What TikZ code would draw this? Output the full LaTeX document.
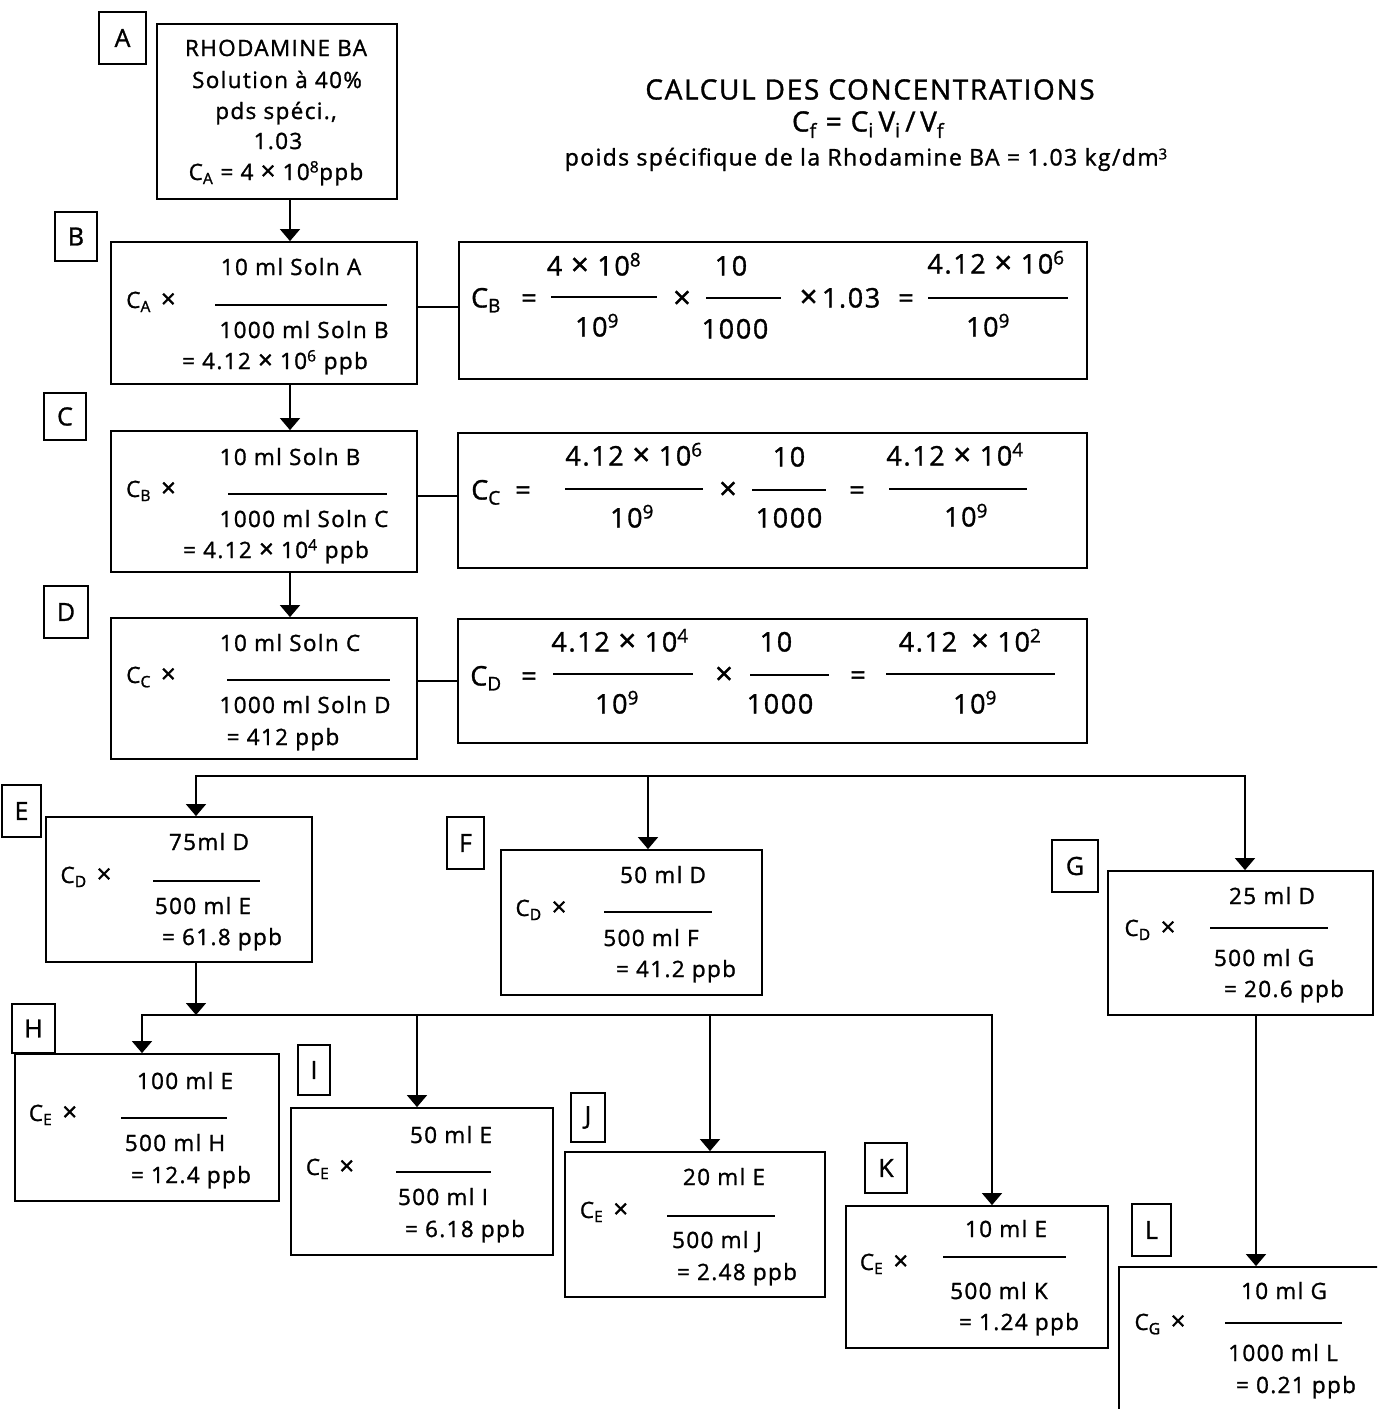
\documentclass[tikz,border=0pt]{standalone}
\usepackage{fontspec}
\setmainfont{Open Sans}[LetterSpace=6, FakeBold=1.2]
\usetikzlibrary{arrows.meta}
\newcommand\Cs[1]{C\textsubscript{#1}}
\newcommand\X{\scalebox{1.15}{×}}
\newcommand\bx[5]{\node[box, minimum width={#4-#2}, minimum height={#5-#3}] (#1) at ({(#2+#4)/2},{(#3+#5)/2}) {};}
\newcommand\lb[6]{\node[lbl, minimum width={#4-#2}, minimum height={#5-#3}] (#1) at ({(#2+#4)/2},{(#3+#5)/2}) {#6};}
\newcommand\rl[3]{\draw[fracrule] (#1,#3) -- (#2,#3);}
\begin{document}
\begin{tikzpicture}[x=1pt,y=-1pt,
  box/.style={draw, line width=1.8pt, inner sep=0pt, rectangle},
  lbl/.style={draw, line width=1.6pt, inner sep=0pt, rectangle, font=\fontsize{25}{28}\selectfont},
  txt/.style={inner sep=0pt, anchor=base, yshift=-8pt, font=\fontsize{22.5}{26}\selectfont},
  eqt/.style={inner sep=0pt, anchor=base, yshift=-9.5pt, font=\fontsize{27}{31}\selectfont},
  ttl/.style={inner sep=0pt, anchor=base, yshift=-9.5pt, font=\fontsize{28}{32}\selectfont},
  sml/.style={inner sep=0pt, anchor=base, yshift=-7.5pt, font=\fontsize{23}{27}\selectfont},
  fracrule/.style={line width=1.6pt},
  link/.style={line width=1.6pt, line cap=rect},
  arr/.style={line width=1.6pt, -{Triangle[width=20pt,length=12pt]}}]
\useasboundingbox (0,0) rectangle (1377,1409);

% ---- title
\node[ttl] (t1) at (870,90) {CALCUL DES CONCENTRATIONS};
\node[ttl] (t2) at (868,122) {\Cs{f} = \Cs{i}\,V\textsubscript{i}\,/\,V\textsubscript{f}};
\node[sml] (t3) at (866,158) {poids spécifique de la Rhodamine BA = 1.03 kg/dm\raisebox{0.5ex}{\fontsize{15}{16}\selectfont 3}};

% ---- letter labels
\lb{lA}{99}{12}{146}{64}{A}
\lb{lB}{55}{212}{97}{261}{B}
\lb{lC}{44}{393}{86}{440}{C}
\lb{lD}{44}{586}{88}{638}{D}
\lb{lE}{2}{785}{41}{837}{E}
\lb{lF}{447}{817}{484}{869}{F}
\lb{lG}{1052}{840}{1098}{892}{G}
\lb{lH}{12}{1004}{55}{1053}{H}
\lb{lI}{298}{1045}{330}{1095}{I}
\lb{lJ}{571}{1093}{605}{1142}{J}
\lb{lK}{865}{1143}{907}{1193}{K}
\lb{lL}{1132}{1204}{1171}{1256}{L}

% ---- boxes
\bx{bA}{157}{24}{397}{199}
\bx{bB}{111}{242}{417}{384}
\bx{qB}{459}{242}{1087}{379}
\bx{bC}{111}{431}{417}{572}
\bx{qC}{458}{433}{1087}{568}
\bx{bD}{111}{618}{417}{759}
\bx{qD}{458}{619}{1087}{743}
\bx{bE}{46}{817}{312}{962}
\bx{bF}{501}{850}{762}{995}
\bx{bG}{1108}{871}{1373}{1015}
\bx{bH}{15}{1054}{279}{1201}
\bx{bI}{291}{1108}{553}{1255}
\bx{bJ}{565}{1152}{825}{1297}
\bx{bK}{846}{1206}{1108}{1348}
\begin{scope}
\clip (0,0) rectangle (1377,1409);
\bx{bL}{1119}{1267}{1420}{1450}
\end{scope}

% ---- box A text
\node[txt] (a1) at (276,48) {RHODAMINE BA};
\node[txt] (a2) at (277,80) {Solution à 40\%};
\node[txt] (a3) at (276,111) {pds spéci.,};
\node[txt] (a4) at (278,141) {1.03};
\node[txt] (a5) at (276,172) {\Cs{A} = 4 \X{} 10\textsuperscript{8}ppb};

% ---- box B
\node[txt] (b1) at (151,300) {\Cs{A}\hspace{10pt}\X};
\node[txt] (b2) at (291,267) {10 ml Soln A};
\rl{215}{387}{305}
\node[txt] (b3) at (304,330) {1000 ml Soln B};
\node[txt] (b4) at (275,361) {= 4.12 \X{} 10\textsuperscript{6} ppb};

% ---- box C
\node[txt] (c1) at (151,489) {\Cs{B}\hspace{10pt}\X};
\node[txt] (c2) at (290,457) {10 ml Soln B};
\rl{228}{387}{494}
\node[txt] (c3) at (304,519) {1000 ml Soln C};
\node[txt] (c4) at (276,550) {= 4.12 \X{} 10\textsuperscript{4} ppb};

% ---- box D
\node[txt] (d1) at (151,675) {\Cs{C}\hspace{10pt}\X};
\node[txt] (d2) at (290,643) {10 ml Soln C};
\rl{227}{390}{680}
\node[txt] (d3) at (305,705) {1000 ml Soln D};
\node[txt] (d4) at (283,737) {= 412 ppb};

% ---- equation B
\node[eqt] (qb1) at (486,298) {\Cs{B}};
\node[eqt] (qb2) at (529,298) {=};
\node[eqt] (qb3) at (594,266) {4 \X{} 10\textsuperscript{8}};
\rl{551}{657}{297}
\node[eqt] (qb4) at (597,327) {10\textsuperscript{9}};
\node[eqt] (qb5) at (682,299) {\X};
\node[eqt] (qb6) at (731,266) {10};
\rl{706}{781}{298}
\node[eqt] (qb7) at (735,329) {1000};
\node[eqt] (qb8) at (840,298) {\X\,1.03};
\node[eqt] (qb9) at (906,298) {=};
\node[eqt] (qb10) at (996,264) {4.12 \X{} 10\textsuperscript{6}};
\rl{928}{1068}{298}
\node[eqt] (qb11) at (988,327) {10\textsuperscript{9}};

% ---- equation C
\node[eqt] (qc1) at (486,490) {\Cs{C}};
\node[eqt] (qc2) at (523,490) {=};
\node[eqt] (qc3) at (634,456) {4.12 \X{} 10\textsuperscript{6}};
\rl{565}{703}{489}
\node[eqt] (qc4) at (632,518) {10\textsuperscript{9}};
\node[eqt] (qc5) at (728,490) {\X};
\node[eqt] (qc6) at (789,457) {10};
\rl{752}{826}{490}
\node[eqt] (qc7) at (789,518) {1000};
\node[eqt] (qc8) at (857,490) {=};
\node[eqt] (qc9) at (955,456) {4.12 \X{} 10\textsuperscript{4}};
\rl{889}{1027}{489}
\node[eqt] (qc10) at (966,517) {10\textsuperscript{9}};

% ---- equation D
\node[eqt] (qd1) at (486,676) {\Cs{D}};
\node[eqt] (qd2) at (529,676) {=};
\node[eqt] (qd3) at (620,642) {4.12 \X{} 10\textsuperscript{4}};
\rl{553}{693}{674}
\node[eqt] (qd4) at (617,704) {10\textsuperscript{9}};
\node[eqt] (qd5) at (724,675) {\X};
\node[eqt] (qd6) at (776,642) {10};
\rl{750}{829}{675}
\node[eqt] (qd7) at (780,704) {1000};
\node[eqt] (qd8) at (858,675) {=};
\node[eqt] (qd9) at (970,642) {4.12\hspace{14pt}\X{} 10\textsuperscript{2}};
\rl{886}{1055}{674}
\node[eqt] (qd10) at (975,704) {10\textsuperscript{9}};

% ---- box E
\node[txt] (e1) at (86,875) {\Cs{D}\hspace{10pt}\X};
\node[txt] (e2) at (209,842) {75ml D};
\rl{153}{260}{881}
\node[txt] (e3) at (203,906) {500 ml E};
\node[txt] (e4) at (222,937) {= 61.8 ppb};

% ---- box F
\node[txt] (f1) at (541,908) {\Cs{D}\hspace{10pt}\X};
\node[txt] (f2) at (663,875) {50 ml D};
\rl{604}{712}{912}
\node[txt] (f3) at (651,938) {500 ml F};
\node[txt] (f4) at (676,969) {= 41.2 ppb};

% ---- box G
\node[txt] (g1) at (1150,928) {\Cs{D}\hspace{10pt}\X};
\node[txt] (g2) at (1272,896) {25 ml D};
\rl{1210}{1328}{928}
\node[txt] (g3) at (1264,958) {500 ml G};
\node[txt] (g4) at (1284,989) {= 20.6 ppb};

% ---- box H
\node[txt] (h1) at (53,1113) {\Cs{E}\hspace{10pt}\X};
\node[txt] (h2) at (185,1081) {100 ml E};
\rl{121}{227}{1118}
\node[txt] (h3) at (175,1143) {500 ml H};
\node[txt] (h4) at (191,1175) {= 12.4 ppb};

% ---- box I
\node[txt] (i1) at (330,1167) {\Cs{E}\hspace{10pt}\X};
\node[txt] (i2) at (451,1135) {50 ml E};
\rl{396}{491}{1172}
\node[txt] (i3) at (443,1197) {500 ml I};
\node[txt] (i4) at (465,1229) {= 6.18 ppb};

% ---- box J
\node[txt] (j1t) at (604,1210) {\Cs{E}\hspace{10pt}\X};
\node[txt] (j2t) at (724,1177) {20 ml E};
\rl{667}{775}{1216}
\node[txt] (j3t) at (717,1240) {500 ml J};
\node[txt] (j4t) at (737,1272) {= 2.48 ppb};

% ---- box K
\node[txt] (k1t) at (884,1262) {\Cs{E}\hspace{10pt}\X};
\node[txt] (k2t) at (1006,1229) {10 ml E};
\rl{943}{1066}{1257}
\node[txt] (k3t) at (999,1291) {500 ml K};
\node[txt] (k4t) at (1019,1322) {= 1.24 ppb};

% ---- box L
\node[txt] (l1t) at (1160,1322) {\Cs{G}\hspace{10pt}\X};
\node[txt] (l2t) at (1284,1291) {10 ml G};
\rl{1225}{1342}{1323}
\node[txt] (l3t) at (1283,1353) {1000 ml L};
\node[txt] (l4t) at (1296,1385) {= 0.21 ppb};

% ---- connectors
\coordinate (xa) at (290,0);
\draw[arr] (xa |- bA.south) -- (xa |- bB.north);
\draw[arr] (xa |- bB.south) -- (xa |- bC.north);
\draw[arr] (xa |- bC.south) -- (xa |- bD.north);
\coordinate (yb) at (0,307);
\coordinate (yc) at (0,496);
\coordinate (yd) at (0,681);
\draw[link] (yb -| bB.east) -- (yb -| qB.west);
\draw[link] (yc -| bC.east) -- (yc -| qC.west);
\draw[link] (yd -| bD.east) -- (yd -| qD.west);

\coordinate (p1) at (196,776);
\coordinate (p2) at (648,776);
\coordinate (p3) at (1245,776);
\draw[link] (p1) -- (p3);
\draw[arr] (p1) -- (p1 |- bE.north);
\draw[arr] (p2) -- (p2 |- bF.north);
\draw[arr] (p3) -- (p3 |- bG.north);

\coordinate (r0) at (196,1015);
\draw[arr] (r0 |- bE.south) -- (r0);
\coordinate (r1) at (142,1015);
\coordinate (r2) at (417,1015);
\coordinate (r3) at (710,1015);
\coordinate (r4) at (992,1015);
\draw[link] (r1) -- (r4);
\draw[arr] (r1) -- (r1 |- bH.north);
\draw[arr] (r2) -- (r2 |- bI.north);
\draw[arr] (r3) -- (r3 |- bJ.north);
\draw[arr] (r4) -- (r4 |- bK.north);

\coordinate (s1) at (1256,0);
\draw[arr] (s1 |- bG.south) -- (s1 |- bL.north);
\end{tikzpicture}
\end{document}
